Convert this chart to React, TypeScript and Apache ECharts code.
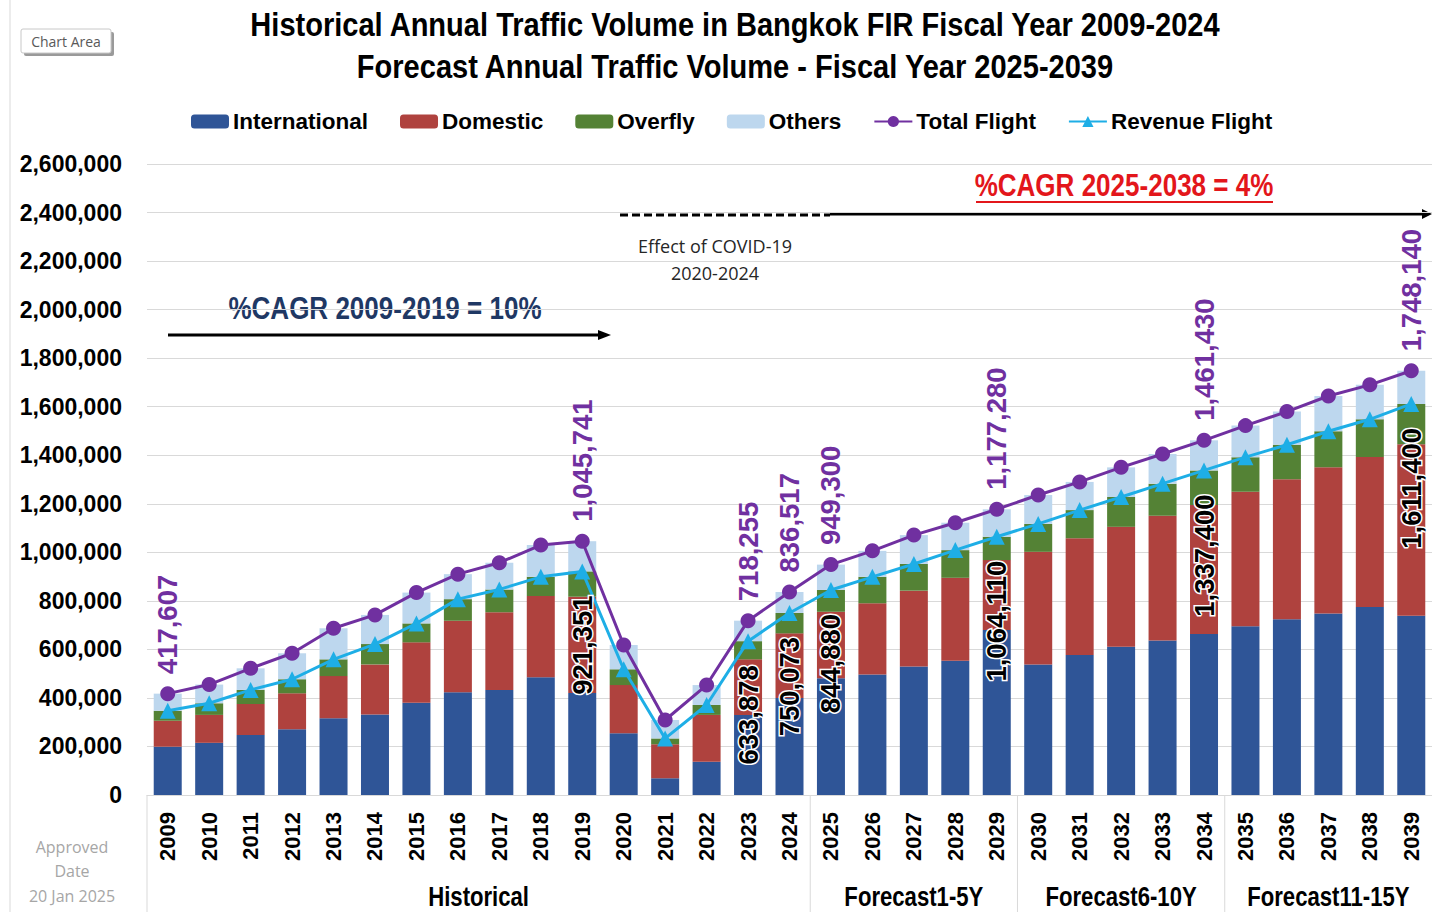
import React, { useEffect, useRef } from 'react';
import * as echarts from 'echarts';

const categories = ['2009','2010','2011','2012','2013','2014','2015','2016','2017','2018','2019','2020','2021','2022','2023','2024','2025','2026','2027','2028','2029','2030','2031','2032','2033','2034','2035','2036','2037','2038','2039'];

const international = [199000,215000,247000,271000,316000,332000,380000,423000,433000,485000,420000,254000,69000,137000,330000,400000,481000,497000,529000,553000,680000,538000,577000,611000,637000,663000,695000,724000,748000,775000,739000];
const domestic = [107000,115000,128000,148000,174000,206000,249000,295000,320000,335000,397000,199000,140000,193000,229000,266000,274000,293000,313000,342000,288000,464000,481000,494000,514000,532000,555000,577000,602000,618000,706000];
const overfly = [41000,48000,58000,58000,69000,84000,78000,89000,94000,79000,104351,65000,24000,41000,74878,84073,89880,109000,110000,114000,96110,115000,116000,123000,132000,142400,142000,142000,149000,155000,166400];
const others = [70607,77000,89000,107000,128000,120000,127000,103000,110000,131000,124390,100000,76000,82000,84377,86444,104420,107000,119000,113000,113170,119000,116000,122000,122000,124030,130000,137000,145000,142000,136740];
const totalFlight = [417607,455000,522000,584000,687000,742000,834000,910000,957000,1030000,1045741,618000,309000,453000,718255,836517,949300,1006000,1071000,1122000,1177280,1236000,1290000,1350000,1405000,1461430,1522000,1580000,1644000,1690000,1748140];
const revenueFlight = [347000,378000,433000,477000,559000,622000,707000,807000,847000,899000,921351,518000,233000,371000,633878,750073,844880,899000,952000,1009000,1064110,1117000,1174000,1228000,1283000,1337400,1392000,1443000,1499000,1548000,1611400];

const totalLabelYears = ['2009','2019','2023','2024','2025','2029','2034','2039'];
const revenueLabelYears = ['2019','2023','2024','2025','2029','2034','2039'];

const groups = [
  { name: 'Historical', from: '2009', to: '2024' },
  { name: 'Forecast1-5Y', from: '2025', to: '2029' },
  { name: 'Forecast6-10Y', from: '2030', to: '2034' },
  { name: 'Forecast11-15Y', from: '2035', to: '2039' },
];

const FONT = '"Liberation Sans", Arial, sans-serif';
const FONT2 = '"Open Sans", "Noto Sans", sans-serif';
const fmt = (v: number) => Math.round(v).toLocaleString('en-US');

const narrowText = (x: number, y: number, text: string, size: number, fill: string, sx = 0.82) => ({
  type: 'text', x, y, scaleX: sx,
  style: { text, font: `bold ${size}px ${FONT}`, fill, align: 'center', verticalAlign: 'middle' },
});

export default function App() {
  const ref = useRef<HTMLDivElement>(null);
  useEffect(() => {
    const chart = echarts.init(ref.current!, null, { renderer: 'svg' });
    const totalData = totalFlight.map((v, i) =>
      totalLabelYears.includes(categories[i]) ? { value: v, label: { show: true } } : v);
    const revData = revenueFlight.map((v, i) =>
      revenueLabelYears.includes(categories[i]) ? { value: v, label: { show: true } } : v);

    const staticGraphics: any[] = [
      { type: 'line', shape: { x1: 10, y1: 0, x2: 10, y2: 912 }, style: { stroke: '#D9D9D9', lineWidth: 1 } },
      { type: 'rect', shape: { x: 24, y: 32, width: 90, height: 24, r: 2 }, style: { fill: '#9a9a9a' } },
      { type: 'rect', shape: { x: 21, y: 29, width: 90, height: 24, r: 2 }, style: { fill: '#fff', stroke: '#C8C8C8', lineWidth: 1 } },
      { type: 'text', x: 66, y: 41, style: { text: 'Chart Area', font: `14px ${FONT2}`, fill: '#595959', align: 'center', verticalAlign: 'middle' } },
      { type: 'text', x: 72, y: 847, style: { text: 'Approved', font: `16px ${FONT2}`, fill: '#A6A6A6', align: 'center', verticalAlign: 'middle' } },
      { type: 'text', x: 72, y: 871, style: { text: 'Date', font: `16px ${FONT2}`, fill: '#A6A6A6', align: 'center', verticalAlign: 'middle' } },
      { type: 'text', x: 72, y: 896, style: { text: '20 Jan 2025', font: `16px ${FONT2}`, fill: '#A6A6A6', align: 'center', verticalAlign: 'middle' } },
      narrowText(735, 25, 'Historical Annual Traffic Volume in Bangkok FIR Fiscal Year 2009-2024', 33, '#000', 0.88),
      narrowText(735, 67, 'Forecast Annual Traffic Volume - Fiscal Year 2025-2039', 33, '#000', 0.88),
      // left CAGR
      narrowText(385, 308, '%CAGR 2009-2019 = 10%', 31, '#1F3864', 0.84),
      { type: 'line', shape: { x1: 168, y1: 335, x2: 600, y2: 335 }, style: { stroke: '#000', lineWidth: 3 } },
      { type: 'polygon', shape: { points: [[598, 330], [611, 335], [598, 340]] }, style: { fill: '#000' } },
      // covid
      { type: 'line', shape: { x1: 620, y1: 215, x2: 830, y2: 215 }, style: { stroke: '#000', lineWidth: 3, lineDash: [8, 4] } },
      { type: 'line', shape: { x1: 830, y1: 214, x2: 1424, y2: 214 }, style: { stroke: '#000', lineWidth: 3 } },
      { type: 'polygon', shape: { points: [[1422, 209], [1432, 214], [1422, 219]] }, style: { fill: '#000' } },
      { type: 'text', x: 715, y: 246, style: { text: 'Effect of COVID-19', font: `18px ${FONT2}`, fill: '#262626', align: 'center', verticalAlign: 'middle' } },
      { type: 'text', x: 715, y: 273, style: { text: '2020-2024', font: `18px ${FONT2}`, fill: '#262626', align: 'center', verticalAlign: 'middle' } },
      narrowText(1124, 185, '%CAGR 2025-2038 = 4%', 31, '#E3161B', 0.84),
      { type: 'line', shape: { x1: 976, y1: 202, x2: 1273, y2: 202 }, style: { stroke: '#E3161B', lineWidth: 2 } },
    ];

    const option: any = {
      animation: false,
      backgroundColor: '#fff',
      textStyle: { fontFamily: FONT },
      legend: {
        left: 186, top: 105, itemGap: 32, itemWidth: 38, itemHeight: 14,
        textStyle: { fontFamily: FONT, fontSize: 22.5, fontWeight: 'bold', color: '#000', padding: [0, 0, 0, -1] },
        data: ['International', 'Domestic', 'Overfly', 'Others', 'Total Flight', 'Revenue Flight'],
      },
      grid: { left: 147, right: 0, top: 164, bottom: 117, containLabel: false },
      xAxis: {
        type: 'category', data: categories,
        axisLine: { lineStyle: { color: '#D9D9D9' } },
        axisTick: { show: false },
        axisLabel: { rotate: 90, margin: 17, fontSize: 22, fontWeight: 'bold', color: '#000', fontFamily: FONT, interval: 0 },
      },
      yAxis: {
        type: 'value', min: 0, max: 2600000, interval: 200000,
        axisLabel: { formatter: (v: number) => fmt(v), fontSize: 23, fontWeight: 'bold', color: '#000', margin: 25, fontFamily: FONT },
        splitLine: { lineStyle: { color: '#D9D9D9' } },
        axisLine: { show: false }, axisTick: { show: false },
      },
      series: [
        { name: 'International', type: 'bar', stack: 'a', barWidth: 28, data: international, itemStyle: { color: '#2F5597' } },
        { name: 'Domestic', type: 'bar', stack: 'a', data: domestic, itemStyle: { color: '#AF423E' } },
        { name: 'Overfly', type: 'bar', stack: 'a', data: overfly, itemStyle: { color: '#548235' } },
        { name: 'Others', type: 'bar', stack: 'a', data: others, itemStyle: { color: '#BDD7EE' } },
        {
          name: 'Total Flight', type: 'line', data: totalData, z: 4,
          symbol: 'circle', symbolSize: 15,
          lineStyle: { color: '#7030A0', width: 3 }, itemStyle: { color: '#7030A0' },
          label: {
            show: false, position: 'top', rotate: 90, align: 'left', verticalAlign: 'middle', distance: 12,
            formatter: (p: any) => fmt(p.value), color: '#7030A0', fontSize: 27.5, fontWeight: 'bold', fontFamily: FONT,
          },
        },
        {
          name: 'Revenue Flight', type: 'line', data: revData, z: 5,
          symbol: 'triangle', symbolSize: 16,
          lineStyle: { color: '#1EAEE6', width: 3 }, itemStyle: { color: '#1EAEE6' },
          label: {
            show: false, position: 'bottom', rotate: 90, align: 'right', verticalAlign: 'middle', distance: 16,
            formatter: (p: any) => fmt(p.value), color: '#000', fontSize: 27.5, fontWeight: 'bold', fontFamily: FONT,
            textBorderColor: '#fff', textBorderWidth: 3,
          },
        },
      ],
      graphic: staticGraphics,
    };
    chart.setOption(option);

    const px = (c: string) => chart.convertToPixel({ xAxisIndex: 0 }, c) as number;
    const half = (px(categories[1]) - px(categories[0])) / 2;
    const dyn: any[] = [];
    groups.forEach((g) => {
      const a = px(g.from) - half;
      const b = px(g.to) + half;
      dyn.push(narrowText((a + b) / 2, 897, g.name, 27, '#000'));
      dyn.push({ type: 'line', shape: { x1: a, y1: 795, x2: a, y2: 912 }, style: { stroke: '#D9D9D9', lineWidth: 1 } });
    });
    chart.setOption({ graphic: [...staticGraphics, ...dyn] });

    return () => chart.dispose();
  }, []);
  return <div ref={ref} style={{ position: 'fixed', left: 0, top: 0, width: 1432, height: 912, background: '#fff' }} />;
}
